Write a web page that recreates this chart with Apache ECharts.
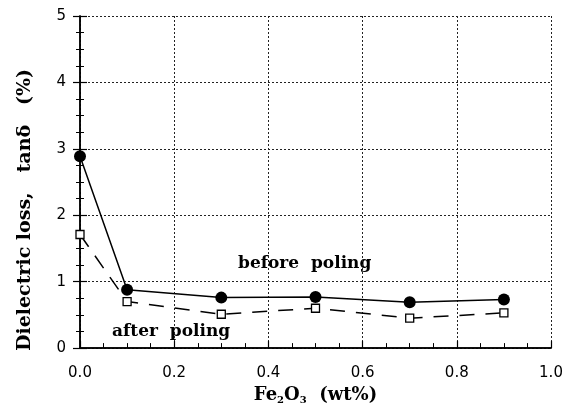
<!DOCTYPE html>
<html><head><meta charset="utf-8">
<script src="https://cdn.jsdelivr.net/npm/echarts@6/dist/echarts.min.js"></script>
<style>html,body{margin:0;padding:0;background:#fff}#c{width:569px;height:410px}</style>
</head><body><div id="c"></div>
<script>
const xValues = [0.0, 0.1, 0.3, 0.5, 0.7, 0.9];
const beforePoling = [2.89, 0.88, 0.76, 0.77, 0.69, 0.73];
const afterPoling = [1.71, 0.70, 0.51, 0.60, 0.45, 0.53];
const xTicks = [0.0, 0.2, 0.4, 0.6, 0.8, 1.0];
const yTicks = [0, 1, 2, 3, 4, 5];

const chart = echarts.init(document.getElementById('c'));
const serif = '"DejaVu Serif",serif';
const sans = '"DejaVu Sans",sans-serif';
const axisCommon = {
  axisLine: {show: true, lineStyle: {color: '#000', width: 1.5}},
  axisTick: {show: true, inside: true, length: 7, lineStyle: {color: '#000', width: 1.2}},
  minorTick: {show: true, splitNumber: 4, length: 4, lineStyle: {color: '#000', width: 1}},
};
chart.setOption({
  animation: false,
  grid: {left: 80, right: 18, top: 16, bottom: 60},
  xAxis: [{
    type: 'value', min: 0, max: 1, interval: 0.2, position: 'bottom',
    ...axisCommon,
    minorTick: {show: true, splitNumber: 4, length: 5, lineStyle: {color: '#000', width: 1}},
    axisLabel: {margin: 18, color: '#000', fontFamily: sans, fontSize: 15, formatter: v => v.toFixed(1)},
    splitLine: {show: true, lineStyle: {type: [2, 2], color: '#222', width: 1}},
    name: '{a|Fe}{s|2}{a|O}{s|3}{a|  (wt%)}',
    nameLocation: 'middle', nameGap: 36,
    nameTextStyle: {
      rich: {
        a: {fontFamily: serif, fontWeight: 'bold', fontSize: 18, color: '#000'},
        s: {fontFamily: serif, fontWeight: 'bold', fontSize: 10, color: '#000', padding: [10, 0, 0, 0]}
      }
    }
  }, {
    type: 'value', min: 0, max: 1, interval: 0.2, position: 'top',
    axisLine: {show: true, lineStyle: {color: '#000', width: 1.5}},
    axisTick: {show: false}, axisLabel: {show: false}, splitLine: {show: false}
  }],
  yAxis: [{
    type: 'value', min: 0, max: 5, interval: 1, position: 'left',
    ...axisCommon,
    axisLabel: {margin: 14, color: '#000', fontFamily: sans, fontSize: 15},
    splitLine: {show: true, lineStyle: {type: [2, 2], color: '#222', width: 1}}
  }, {
    type: 'value', min: 0, max: 5, interval: 1, position: 'right',
    ...axisCommon,
    axisLabel: {show: false}, splitLine: {show: false}
  }],
  series: [{
    name: 'before poling', type: 'line',
    data: xValues.map((x, i) => [x, beforePoling[i]]),
    symbol: 'circle', symbolSize: 12,
    itemStyle: {color: '#000'},
    lineStyle: {color: '#000', width: 1.5}
  }, {
    name: 'after poling', type: 'line',
    data: xValues.map((x, i) => [x, afterPoling[i]]),
    symbol: 'rect', symbolSize: 8,
    itemStyle: {color: '#fff', borderColor: '#000', borderWidth: 1.3},
    lineStyle: {color: '#000', width: 1.5, type: [15, 11]}
  }],
  graphic: [
    {type: 'text', x: 25, y: 210, rotation: Math.PI / 2,
     style: {text: 'Dielectric loss,   tanδ   (%)', font: 'bold 19px ' + serif, fill: '#000', align: 'center', verticalAlign: 'middle'}},
    {type: 'text', left: 238, top: 255, style: {text: 'before  poling', font: 'bold 17px ' + serif, fill: '#000'}},
    {type: 'text', left: 112, top: 323, style: {text: 'after  poling', font: 'bold 17px ' + serif, fill: '#000'}}
  ]
});
</script></body></html>
